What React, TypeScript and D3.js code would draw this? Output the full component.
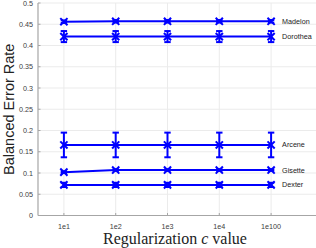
import React from "react";
import * as d3 from "d3";

const categories = ["1e1", "1e2", "1e3", "1e4", "1e100"];
const seriesNames = ["Madelon", "Dorothea", "Arcene", "Gisette", "Dexter"];
const madelon = [0.456, 0.457, 0.457, 0.457, 0.457];
const dorothea = [0.421, 0.421, 0.421, 0.421, 0.421];
const arcene = [0.166, 0.166, 0.166, 0.166, 0.166];
const gisette = [0.102, 0.107, 0.107, 0.107, 0.107];
const dexter = [0.072, 0.072, 0.072, 0.072, 0.072];
const madelonErr = [0.003, 0.003, 0.003, 0.003, 0.003];
const dorotheaErr = [0.013, 0.013, 0.013, 0.013, 0.013];
const arceneErr = [0.029, 0.029, 0.029, 0.029, 0.029];
const gisetteErr = [0.002, 0.002, 0.002, 0.002, 0.002];
const dexterErr = [0.005, 0.005, 0.005, 0.005, 0.005];
const yTicks = [0, 0.05, 0.1, 0.15, 0.2, 0.25, 0.3, 0.35, 0.4, 0.45, 0.5];

const series = [
  { name: seriesNames[0], values: madelon, err: madelonErr },
  { name: seriesNames[1], values: dorothea, err: dorotheaErr },
  { name: seriesNames[2], values: arcene, err: arceneErr },
  { name: seriesNames[3], values: gisette, err: gisetteErr },
  { name: seriesNames[4], values: dexter, err: dexterErr },
];

export default function App() {
  const W = 316, H = 248;
  const left = 38, top = 3, bottom = 215.5;
  const x = d3.scaleLinear().domain([0.5, 6]).range([left, left + 5.5 * 51.8]);
  const y = d3.scaleLinear().domain([0, 0.5]).range([bottom, top]);
  const right = W;
  const blue = "#0000ff";
  const line = d3.line<number>().x((_, i) => x(i + 1)).y((v) => y(v));
  const ms = 3.6;
  const cap = 3.2;
  const grid = "#ebebeb";
  const axisCol = "#a6a6a6";
  const tickText = "#404040";
  return (
    <svg width={W} height={H} style={{ position: "absolute", left: 0, top: 0 }}>
      <rect width={W} height={H} fill="#fff" />
      {yTicks.map((t) => (
        <line key={"gy" + t} x1={left} x2={right} y1={y(t)} y2={y(t)} stroke={grid} strokeWidth={1} />
      ))}
      {categories.map((c, i) => (
        <line key={"gx" + c} x1={x(i + 1)} x2={x(i + 1)} y1={top} y2={bottom} stroke={grid} strokeWidth={1} />
      ))}
      <line x1={left} x2={left} y1={top} y2={bottom} stroke={axisCol} strokeWidth={1.2} />
      <line x1={left} x2={right} y1={bottom} y2={bottom} stroke={axisCol} strokeWidth={1.2} />
      {yTicks.map((t) => (
        <g key={"ty" + t}>
          <line x1={left} x2={left + 2.5} y1={y(t)} y2={y(t)} stroke={axisCol} />
          <text x={left - 5} y={y(t) + 2.5} fontSize={7.2} fill={tickText} textAnchor="end" fontFamily="Liberation Sans, Arial, sans-serif">
            {String(t)}
          </text>
        </g>
      ))}
      {categories.map((c, i) => (
        <g key={"tx" + c}>
          <line x1={x(i + 1)} x2={x(i + 1)} y1={bottom} y2={bottom - 2.5} stroke={axisCol} />
          <text x={x(i + 1)} y={bottom + 13} fontSize={7.2} fill={tickText} textAnchor="middle" fontFamily="Liberation Sans, Arial, sans-serif">
            {c}
          </text>
        </g>
      ))}
      {series.map((s) => (
        <g key={s.name}>
          <path d={line(s.values) || ""} fill="none" stroke={blue} strokeWidth={2} />
          {s.values.map((v, i) => {
            const cx = x(i + 1);
            const cy = y(v);
            const y1 = y(v + s.err[i]);
            const y2 = y(v - s.err[i]);
            return (
              <g key={i} stroke={blue} strokeWidth={2}>
                <line x1={cx} x2={cx} y1={y1} y2={y2} />
                <line x1={cx - cap} x2={cx + cap} y1={y1} y2={y1} />
                <line x1={cx - cap} x2={cx + cap} y1={y2} y2={y2} />
                <line x1={cx - ms} x2={cx + ms} y1={cy - ms} y2={cy + ms} />
                <line x1={cx - ms} x2={cx + ms} y1={cy + ms} y2={cy - ms} />
              </g>
            );
          })}
          <text x={x(5) + 11} y={y(s.values[4]) + 2.5} fontSize={7.2} fill="#222" fontFamily="Liberation Sans, Arial, sans-serif">
            {s.name}
          </text>
        </g>
      ))}
      <text
        transform={`translate(13.5,${(top + bottom) / 2}) rotate(-90)`}
        textAnchor="middle"
        fontSize={14.5}
        fill="#222"
        fontFamily="Liberation Sans, Arial, sans-serif"
      >
        Balanced Error Rate
      </text>
      <text x={175} y={243.5} textAnchor="middle" fontSize={16} fill="#222" fontFamily="Liberation Serif, Times New Roman, serif">
        Regularization <tspan fontStyle="italic">c</tspan> value
      </text>
    </svg>
  );
}
